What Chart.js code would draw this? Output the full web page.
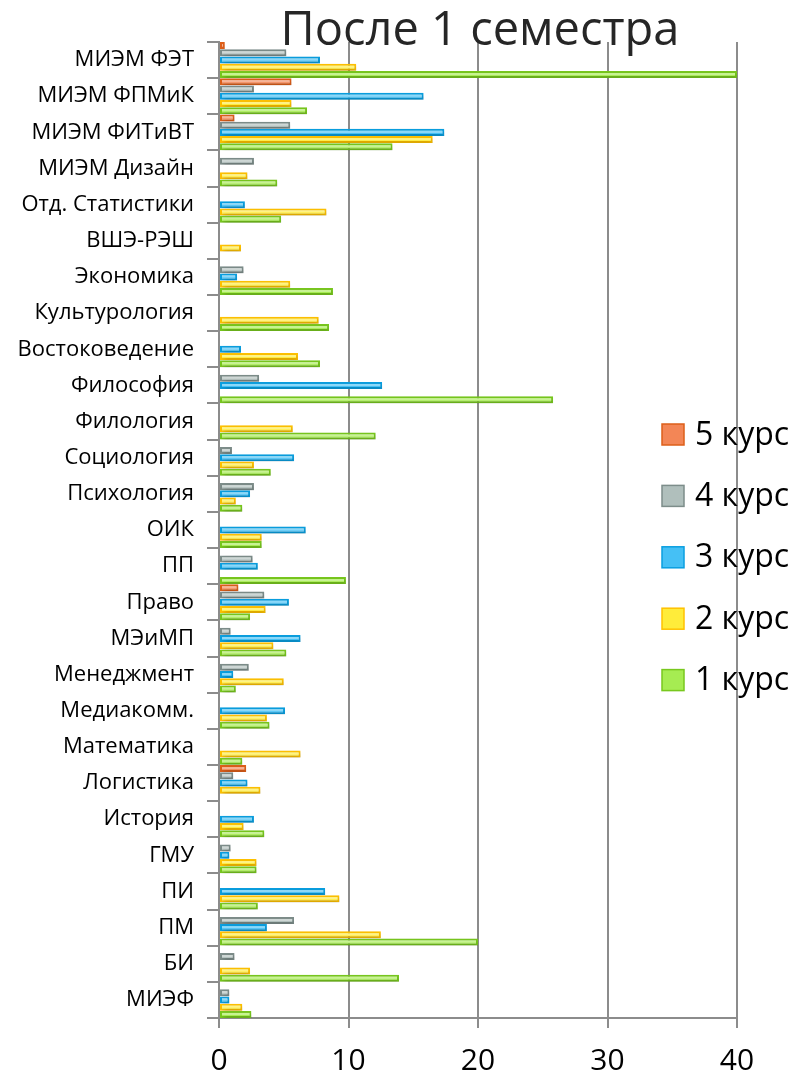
<!DOCTYPE html>
<html><head><meta charset="utf-8">
<script src="https://cdn.jsdelivr.net/npm/chart.js@4.4.1/dist/chart.umd.min.js"></script>
<style>html,body{margin:0;padding:0;background:#fff}#wrap{width:794px;height:1081px;position:relative}</style>
</head><body><div id="wrap"><canvas id="c" width="794" height="1081"></canvas></div>
<script>
const titleText = 'После 1 семестра';
const categories = ['МИЭМ ФЭТ','МИЭМ ФПМиК','МИЭМ ФИТиВТ','МИЭМ Дизайн','Отд. Статистики','ВШЭ-РЭШ','Экономика','Культурология','Востоковедение','Философия','Филология','Социология','Психология','ОИК','ПП','Право','МЭиМП','Менеджмент','Медиакомм.','Математика','Логистика','История','ГМУ','ПИ','ПМ','БИ','МИЭФ'];
const seriesNames = ['5 курс','4 курс','3 курс','2 курс','1 курс'];
const kurs5 = [0.45,5.6,1.2,null,null,null,null,null,null,null,null,null,null,null,null,1.5,null,null,null,null,2.1,null,null,null,null,null,null];
const kurs4 = [5.2,2.7,5.5,2.7,null,null,1.9,null,null,3.1,null,1.0,2.7,null,2.6,3.5,0.9,2.3,null,null,1.1,null,0.9,null,5.8,1.2,0.8];
const kurs3 = [7.8,15.8,17.4,null,2.0,null,1.4,null,1.7,12.6,null,5.8,2.4,6.7,3.0,5.4,6.3,1.1,5.1,null,2.2,2.7,0.8,8.2,3.7,null,0.8];
const kurs2 = [10.6,5.6,16.5,2.2,8.3,1.7,5.5,7.7,6.1,null,5.7,2.7,1.3,3.3,null,3.6,4.2,5.0,3.7,6.3,3.2,1.9,2.9,9.3,12.5,2.4,1.8];
const kurs1 = [40,6.8,13.4,4.5,4.8,null,8.8,8.5,7.8,25.8,12.1,4.0,1.8,3.3,9.8,2.4,5.2,1.3,3.9,1.8,null,3.5,2.9,3.0,20.0,13.9,2.5];
const xTicks = [0,10,20,30,40];

const fills = ['#f38656','#b0bfbc','#45c0f5','#ffec3a','#a6ec52'];
const borders = ['#dd5f1a','#7d8d8a','#0a9fe0','#ffc200','#78c81e'];
const F = '"Open Sans", "Noto Sans", sans-serif';

const allSeries = [kurs5,kurs4,kurs3,kurs2,kurs1];
const datasets = allSeries.map((d,i)=>({label:seriesNames[i],data:d,backgroundColor:fills[i],borderColor:borders[i],borderWidth:2,borderSkipped:false}));

const shadowPlugin = {
  id:'shadow',
  beforeDatasetsDraw(chart){const c=chart.ctx;c.save();c.shadowColor='rgba(0,0,0,0.3)';c.shadowBlur=5;c.shadowOffsetX=2;c.shadowOffsetY=3;},
  afterDatasetsDraw(chart){const c=chart.ctx;c.restore();
    // glossy highlight on each bar, positioned from the library's bar elements
    c.save();c.fillStyle='rgba(255,255,255,0.38)';
    chart.data.datasets.forEach((ds,i)=>{chart.getDatasetMeta(i).data.forEach(el=>{
      if(el.skip||el.x==null||isNaN(el.x))return; const w=el.x-el.base; if(w<=4)return;
      c.fillRect(el.base+2,el.y-el.height/2+2,w-4,Math.max(1,el.height*0.3));});});
    c.restore();}
};
const titlePlugin = {
  id:'ttl',
  afterDraw(chart){const c=chart.ctx;c.save();c.font='47px '+F;c.fillStyle='#262626';c.textAlign='center';c.textBaseline='alphabetic';c.fillText(titleText,480,45);c.restore();}
};
const legendPlugin = {
  id:'lgd',
  afterDraw(chart){const c=chart.ctx;c.save();c.font='32px '+F;c.textBaseline='middle';c.textAlign='left';
    chart.data.datasets.forEach((ds,i)=>{const y=434.5+i*61.4;
      c.fillStyle=ds.backgroundColor;c.fillRect(662,y-10.5,22,21);
      c.strokeStyle=ds.borderColor;c.lineWidth=1.5;c.strokeRect(662,y-10.5,22,21);
      c.fillStyle='#000';c.fillText(ds.label,695,y+1);});
    c.restore();}
};

new Chart(document.getElementById('c'),{
  type:'bar',
  data:{labels:categories,datasets:datasets},
  options:{
    responsive:false,animation:false,indexAxis:'y',
    layout:{padding:{top:42,right:57,left:0,bottom:0}},
    plugins:{legend:{display:false},title:{display:false},tooltip:{enabled:false}},
    datasets:{bar:{categoryPercentage:1,barPercentage:0.97}},
    scales:{
      x:{min:0,max:40,afterBuildTicks(s){s.ticks=xTicks.map(v=>({value:v}));},
        ticks:{font:{family:F,size:30},color:'#000',padding:15},
        grid:{color:'#8c8c8c',lineWidth:2,tickLength:10,tickColor:'#8c8c8c'},
        border:{color:'#8c8c8c',width:2},
        afterFit(s){s.height=63;}},
      y:{ticks:{font:{family:F,size:22},color:'#000',padding:13,autoSkip:false},
        grid:{drawOnChartArea:false,tickLength:12,color:'#8c8c8c',lineWidth:2},
        border:{color:'#8c8c8c',width:2},
        afterFit(s){s.width=219;}}
    }
  },
  plugins:[shadowPlugin,titlePlugin,legendPlugin]
});
</script></body></html>
